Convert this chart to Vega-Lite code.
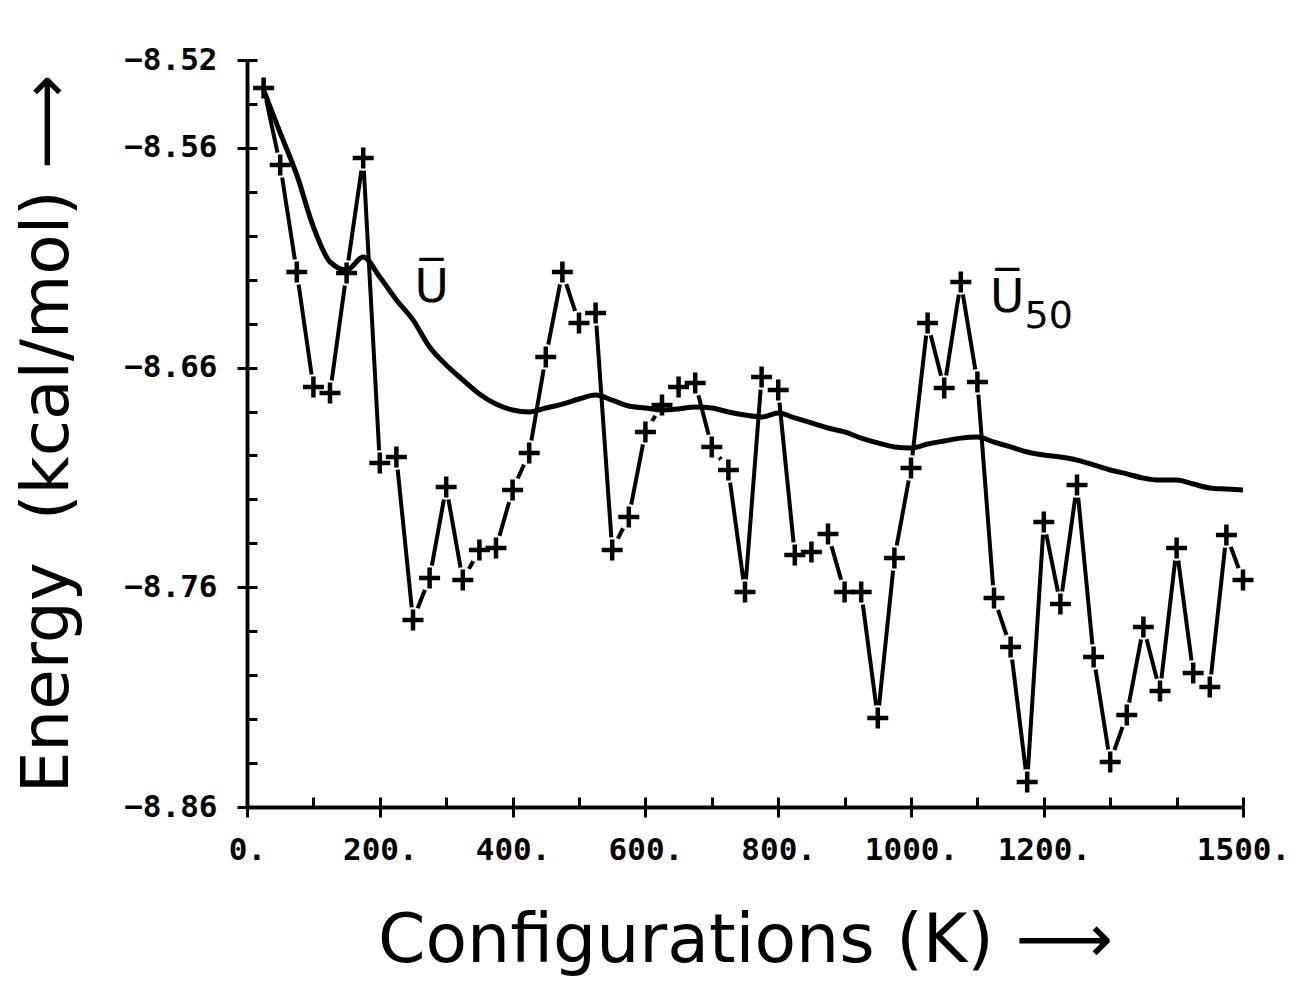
{
  "$schema": "https://vega.github.io/schema/vega-lite/v6.json",
  "width": 996,
  "height": 747,
  "autosize": "none",
  "padding": {"left": 247, "top": 60, "right": 54, "bottom": 175},
  "background": "white",
  "config": {
    "view": {"stroke": null},
    "axis": {
      "grid": false,
      "domainColor": "black",
      "domainWidth": 3.5,
      "tickColor": "black",
      "tickWidth": 3,
      "labelColor": "black",
      "labelFont": "DejaVu Sans Mono",
      "labelFontWeight": "bold",
      "labelFontSize": 31,
      "labelFlush": false,
      "labelOverlap": false,
      "titleColor": "black",
      "titleFont": "DejaVu Sans",
      "titleFontWeight": "normal",
      "titleFontSize": 66
    }
  },
  "datasets": {
    "inst": [
      {"c": 25, "e": -8.5327}, {"c": 50, "e": -8.5678}, {"c": 75, "e": -8.6165}, {"c": 100, "e": -8.6688},
      {"c": 125, "e": -8.6716}, {"c": 150, "e": -8.6169}, {"c": 175, "e": -8.5646}, {"c": 200, "e": -8.7034},
      {"c": 225, "e": -8.7007}, {"c": 250, "e": -8.7749}, {"c": 275, "e": -8.7558}, {"c": 300, "e": -8.7143},
      {"c": 325, "e": -8.7567}, {"c": 350, "e": -8.743}, {"c": 375, "e": -8.7421}, {"c": 400, "e": -8.7157},
      {"c": 425, "e": -8.6989}, {"c": 450, "e": -8.6552}, {"c": 475, "e": -8.6165}, {"c": 500, "e": -8.6397},
      {"c": 525, "e": -8.6352}, {"c": 550, "e": -8.743}, {"c": 575, "e": -8.728}, {"c": 600, "e": -8.6893},
      {"c": 625, "e": -8.677}, {"c": 650, "e": -8.6688}, {"c": 675, "e": -8.667}, {"c": 700, "e": -8.6961},
      {"c": 725, "e": -8.7066}, {"c": 750, "e": -8.7621}, {"c": 775, "e": -8.6643}, {"c": 800, "e": -8.6702},
      {"c": 825, "e": -8.7453}, {"c": 850, "e": -8.7439}, {"c": 875, "e": -8.7357}, {"c": 900, "e": -8.7621},
      {"c": 925, "e": -8.7621}, {"c": 950, "e": -8.8195}, {"c": 975, "e": -8.7467}, {"c": 1000, "e": -8.7057},
      {"c": 1025, "e": -8.6397}, {"c": 1050, "e": -8.6693}, {"c": 1075, "e": -8.621}, {"c": 1100, "e": -8.6666},
      {"c": 1125, "e": -8.7649}, {"c": 1150, "e": -8.7872}, {"c": 1175, "e": -8.8486}, {"c": 1200, "e": -8.7303},
      {"c": 1225, "e": -8.7676}, {"c": 1250, "e": -8.7134}, {"c": 1275, "e": -8.7917}, {"c": 1300, "e": -8.8395},
      {"c": 1325, "e": -8.8181}, {"c": 1350, "e": -8.7781}, {"c": 1375, "e": -8.8072}, {"c": 1400, "e": -8.7421},
      {"c": 1425, "e": -8.799}, {"c": 1450, "e": -8.8054}, {"c": 1475, "e": -8.7362}, {"c": 1500, "e": -8.7567}
    ],
    "avg": [
      {"c": 25, "e": -8.5337}, {"c": 50, "e": -8.5532}, {"c": 75, "e": -8.5723}, {"c": 100, "e": -8.596},
      {"c": 125, "e": -8.6119}, {"c": 150, "e": -8.6156}, {"c": 175, "e": -8.6097}, {"c": 200, "e": -8.6188},
      {"c": 225, "e": -8.6292}, {"c": 250, "e": -8.6383}, {"c": 275, "e": -8.6506}, {"c": 300, "e": -8.6588},
      {"c": 325, "e": -8.6656}, {"c": 350, "e": -8.672}, {"c": 375, "e": -8.6766}, {"c": 400, "e": -8.6793},
      {"c": 425, "e": -8.6802}, {"c": 450, "e": -8.6784}, {"c": 475, "e": -8.6766}, {"c": 500, "e": -8.6743},
      {"c": 525, "e": -8.6725}, {"c": 550, "e": -8.6748}, {"c": 575, "e": -8.6775}, {"c": 600, "e": -8.6784},
      {"c": 625, "e": -8.6793}, {"c": 650, "e": -8.6788}, {"c": 675, "e": -8.6779}, {"c": 700, "e": -8.6784},
      {"c": 725, "e": -8.6802}, {"c": 750, "e": -8.6816}, {"c": 775, "e": -8.6825}, {"c": 800, "e": -8.6807},
      {"c": 825, "e": -8.6829}, {"c": 850, "e": -8.6852}, {"c": 875, "e": -8.6875}, {"c": 900, "e": -8.6893},
      {"c": 925, "e": -8.6921}, {"c": 950, "e": -8.6943}, {"c": 975, "e": -8.6961}, {"c": 1000, "e": -8.6966},
      {"c": 1025, "e": -8.6948}, {"c": 1050, "e": -8.6934}, {"c": 1075, "e": -8.6921}, {"c": 1100, "e": -8.6916},
      {"c": 1125, "e": -8.6939}, {"c": 1150, "e": -8.6961}, {"c": 1175, "e": -8.6984}, {"c": 1200, "e": -8.6998},
      {"c": 1225, "e": -8.7007}, {"c": 1250, "e": -8.7021}, {"c": 1275, "e": -8.7043}, {"c": 1300, "e": -8.7066},
      {"c": 1325, "e": -8.7084}, {"c": 1350, "e": -8.7103}, {"c": 1375, "e": -8.7112}, {"c": 1400, "e": -8.7112},
      {"c": 1425, "e": -8.713}, {"c": 1450, "e": -8.7148}, {"c": 1475, "e": -8.7153}, {"c": 1500, "e": -8.7157}
    ],
    "uLabels": [
      {"c": 278, "e": -8.6301, "t": "U\u0305"},
      {"c": 1145, "e": -8.6347, "t": "U\u0305"}
    ],
    "subLabels": [
      {"c": 1171, "e": -8.642, "t": "50"}
    ]
  },
  "resolve": {"axis": {"x": "independent", "y": "independent"}},
  "layer": [
    {
      "data": {"name": "inst"},
      "mark": {"type": "line", "color": "black", "strokeWidth": 4, "strokeJoin": "round"},
      "encoding": {
        "x": {"field": "c", "type": "quantitative", "scale": {"domain": [0, 1500], "nice": false, "zero": false},
          "axis": {"orient": "bottom", "values": [0, 100, 200, 300, 400, 500, 600, 700, 800, 900, 1000, 1100, 1200, 1300, 1400, 1500], "tickSize": -10, "labels": false, "title": null, "domain": true}},
        "y": {"field": "e", "type": "quantitative", "scale": {"domain": [-8.86, -8.52], "nice": false, "zero": false},
          "axis": {"orient": "left", "values": [-8.86, -8.84, -8.82, -8.8, -8.78, -8.76, -8.74, -8.72, -8.7, -8.68, -8.66, -8.64, -8.62, -8.6, -8.58, -8.56, -8.54, -8.52], "tickSize": -10, "labels": false, "title": null, "domain": true}}
      }
    },
    {
      "data": {"name": "inst"},
      "mark": {"type": "point", "shape": "circle", "size": 650, "filled": true, "color": "white", "opacity": 1, "strokeWidth": 0},
      "encoding": {
        "x": {"field": "c", "type": "quantitative", "scale": {"domain": [0, 1500], "nice": false, "zero": false}, "axis": null},
        "y": {"field": "e", "type": "quantitative", "scale": {"domain": [-8.86, -8.52], "nice": false, "zero": false}, "axis": null}
      }
    },
    {
      "data": {"name": "avg"},
      "mark": {"type": "line", "color": "black", "strokeWidth": 5, "strokeJoin": "round", "interpolate": "monotone"},
      "encoding": {
        "x": {"field": "c", "type": "quantitative", "scale": {"domain": [0, 1500], "nice": false, "zero": false}, "axis": null},
        "y": {"field": "e", "type": "quantitative", "scale": {"domain": [-8.86, -8.52], "nice": false, "zero": false}, "axis": null}
      }
    },
    {
      "data": {"name": "inst"},
      "mark": {"type": "point", "shape": "M-1,0L1,0M0,-1L0,1", "size": 440, "filled": false, "color": "black", "strokeWidth": 4.5, "opacity": 1},
      "encoding": {
        "x": {"field": "c", "type": "quantitative", "scale": {"domain": [0, 1500], "nice": false, "zero": false},
          "axis": {"orient": "bottom", "values": [0, 200, 400, 600, 800, 1000, 1200, 1500], "tickSize": 10, "format": "d", "labelExpr": "datum.label + '.'", "labelPadding": 18, "title": "Configurations (K) \u27f6", "titleFontSize": 68, "titlePadding": 42, "domain": true}},
        "y": {"field": "e", "type": "quantitative", "scale": {"domain": [-8.86, -8.52], "nice": false, "zero": false},
          "axis": {"orient": "left", "values": [-8.86, -8.76, -8.66, -8.56, -8.52], "tickSize": 10, "format": ".2f", "labelPadding": 20, "title": "Energy\u00a0\u00a0(kcal/mol) \u27f6", "titlePadding": 42, "domain": true}}
      }
    },
    {
      "data": {"name": "uLabels"},
      "mark": {"type": "text", "font": "DejaVu Sans", "fontSize": 47, "align": "center", "baseline": "alphabetic", "color": "black"},
      "encoding": {
        "x": {"field": "c", "type": "quantitative", "scale": {"domain": [0, 1500], "nice": false, "zero": false}, "axis": null},
        "y": {"field": "e", "type": "quantitative", "scale": {"domain": [-8.86, -8.52], "nice": false, "zero": false}, "axis": null},
        "text": {"field": "t"}
      }
    },
    {
      "data": {"name": "subLabels"},
      "mark": {"type": "text", "font": "DejaVu Sans", "fontSize": 38, "align": "left", "baseline": "alphabetic", "color": "black"},
      "encoding": {
        "x": {"field": "c", "type": "quantitative", "scale": {"domain": [0, 1500], "nice": false, "zero": false}, "axis": null},
        "y": {"field": "e", "type": "quantitative", "scale": {"domain": [-8.86, -8.52], "nice": false, "zero": false}, "axis": null},
        "text": {"field": "t"}
      }
    }
  ]
}
